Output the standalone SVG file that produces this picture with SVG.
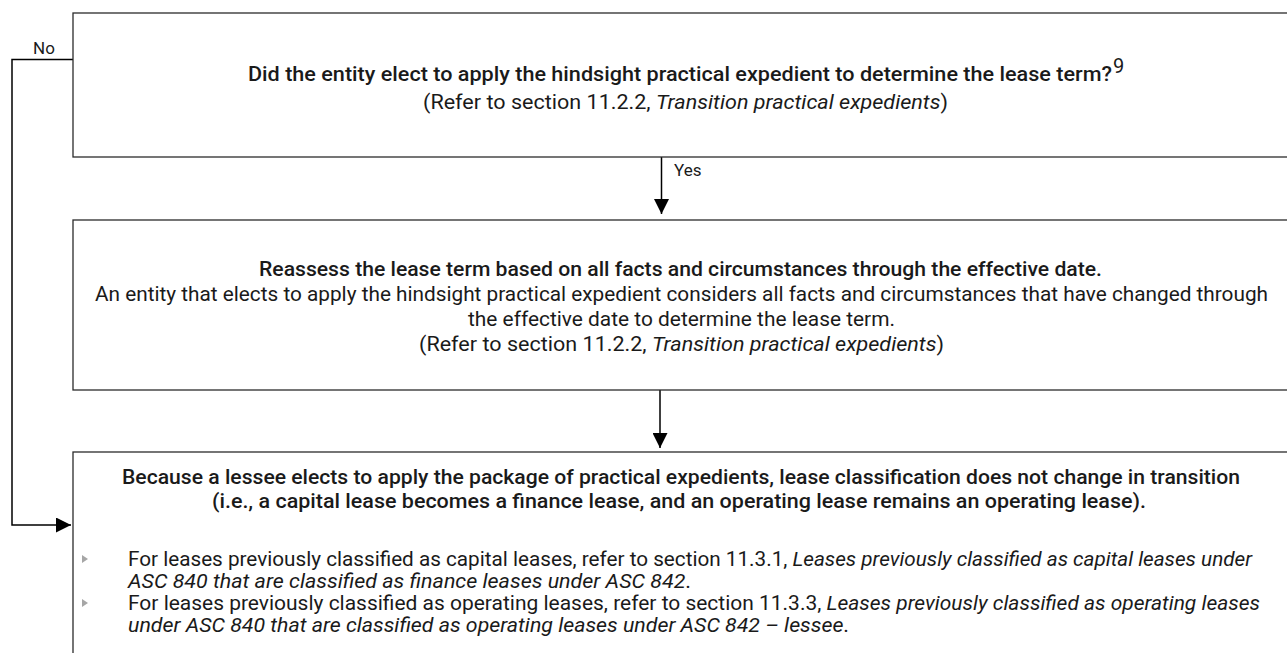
<svg xmlns="http://www.w3.org/2000/svg" width="1287" height="653" viewBox="0 0 1287 653">
<defs>
<marker id="arr" markerUnits="userSpaceOnUse" markerWidth="15" markerHeight="15" refX="15" refY="7.5" orient="auto">
<path d="M0,0 L15,7.5 L0,15 z" fill="#000"/>
</marker>
<style>
.box{fill:#fff;stroke:#2b2b2b;stroke-width:1.3}
.t{font-family:Roboto,"Liberation Sans",sans-serif;font-size:20px;fill:#1a1a1a}
.b{font-weight:500}
.i{font-style:italic}
.lbl{font-family:Roboto,"Liberation Sans",sans-serif;font-size:17px;fill:#1a1a1a}
.con{fill:none;stroke:#000;stroke-width:1.5}
.bul{fill:#a6a6a6}
</style>
</defs>
<rect width="1287" height="653" fill="#fff"/>
<g id="connectors">
<path class="con" d="M661.5,157 V214" marker-end="url(#arr)"/>
<path class="con" d="M660,390 V448" marker-end="url(#arr)"/>
<path class="con" d="M73,59.5 H12 V525 H71" marker-end="url(#arr)"/>
<text class="lbl" x="33" y="54">No</text>
<text class="lbl" x="674" y="176">Yes</text>
</g>
<g id="q1">
<rect class="box" x="73" y="13" width="1260" height="144"/>
<text class="t b" x="248" y="81" textLength="864" lengthAdjust="spacingAndGlyphs">Did the entity elect to apply the hindsight practical expedient to determine the lease term?</text>
<text class="t" x="1113" y="73" font-size="14">9</text>
<text class="t" x="423" y="109" textLength="525" lengthAdjust="spacingAndGlyphs">(Refer to section 11.2.2, <tspan class="i">Transition practical expedients</tspan>)</text>
</g>
<g id="reassess">
<rect class="box" x="73" y="220" width="1260" height="170"/>
<text class="t b" x="259" y="276" textLength="843" lengthAdjust="spacingAndGlyphs">Reassess the lease term based on all facts and circumstances through the effective date.</text>
<text class="t" x="95" y="301" textLength="1173" lengthAdjust="spacingAndGlyphs">An entity that elects to apply the hindsight practical expedient considers all facts and circumstances that have changed through</text>
<text class="t" x="468" y="326" textLength="427" lengthAdjust="spacingAndGlyphs">the effective date to determine the lease term.</text>
<text class="t" x="419" y="351" textLength="525" lengthAdjust="spacingAndGlyphs">(Refer to section 11.2.2, <tspan class="i">Transition practical expedients</tspan>)</text>
</g>
<g id="classification">
<rect class="box" x="73" y="452" width="1260" height="230"/>
<text class="t b" x="122" y="484" textLength="1118" lengthAdjust="spacingAndGlyphs">Because a lessee elects to apply the package of practical expedients, lease classification does not change in transition</text>
<text class="t b" x="212" y="508" textLength="934" lengthAdjust="spacingAndGlyphs">(i.e., a capital lease becomes a finance lease, and an operating lease remains an operating lease).</text>
<path class="bul" d="M82,555 L88,559 L82,563 z"/>
<text class="t" x="128" y="566" textLength="1124" lengthAdjust="spacingAndGlyphs">For leases previously classified as capital leases, refer to section 11.3.1, <tspan class="i">Leases previously classified as capital leases under</tspan></text>
<text class="t" x="128" y="588" textLength="563" lengthAdjust="spacingAndGlyphs"><tspan class="i">ASC 840 that are classified as finance leases under ASC 842</tspan>.</text>
<path class="bul" d="M82,599 L88,603 L82,607 z"/>
<text class="t" x="128" y="610" textLength="1132" lengthAdjust="spacingAndGlyphs">For leases previously classified as operating leases, refer to section 11.3.3, <tspan class="i">Leases previously classified as operating leases</tspan></text>
<text class="t" x="128" y="632" textLength="721" lengthAdjust="spacingAndGlyphs"><tspan class="i">under ASC 840 that are classified as operating leases under ASC 842 – lessee</tspan>.</text>
</g>
</svg>
